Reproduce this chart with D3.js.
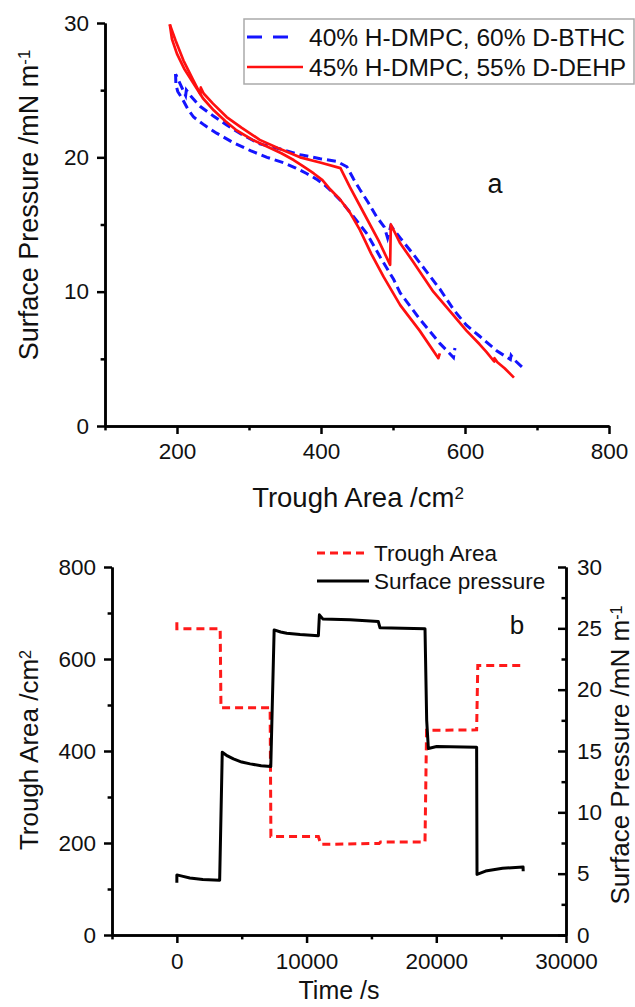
<!DOCTYPE html>
<html>
<head>
<meta charset="utf-8">
<script src="https://cdn.jsdelivr.net/npm/d3@7"></script>
<style>
  body { margin: 0; background: #fff; }
  svg { display: block; font-family: Arial, "Liberation Sans", sans-serif; }
  .axis path, .axis line { stroke: #000; stroke-width: 2.5; }
  .axis text { font-size: 22.5px; fill: #111; }
</style>
</head>
<body>
<svg id="chart" width="635" height="1007"></svg>
<script>
// ---- panel a: pressure vs trough area, [area, pressure] ----
const redCompression = [
  [668, 3.6], [655, 4.3], [645, 4.75], [641, 5.05], [640.5, 4.8], [630, 5.5],
  [620, 6.1], [602, 7.1], [580, 8.5], [556, 10.0], [527, 12.3], [510, 13.6],
  [497, 15.0], [496, 12.0], [480, 13.8], [460, 15.8], [440, 17.8], [427, 19.2],
  [400, 19.6], [371, 20.0], [340, 20.7], [315, 21.3], [290, 22.2], [269, 23.0],
  [250, 24.0], [237, 24.75], [233, 25.2], [232.5, 24.7], [222, 25.8],
  [209, 27.2], [198, 28.7], [190, 29.9]
];
const redExpansion = [
  [190, 29.9], [193, 28.8], [200, 27.7], [210, 26.6], [223, 25.5], [236, 24.4],
  [251, 23.5], [267, 22.7], [283, 22.0], [305, 21.3], [325, 20.8], [345, 20.3],
  [362, 19.8], [376, 19.3], [390, 18.8], [402, 18.3], [413, 17.6], [426, 16.9],
  [440, 15.9], [454, 14.6], [470, 12.8], [487, 11.1], [510, 9.0], [537, 7.1],
  [563, 5.05], [565, 5.4]
];
const blueCompression = [
  [679, 4.4], [668, 4.95], [664, 5.25], [663, 4.95], [644, 5.6], [620, 6.7],
  [602, 7.5], [585, 8.6], [565, 10.2], [545, 11.6], [528, 12.8], [510, 14.0],
  [497, 14.9], [492.5, 14.0], [488, 14.8], [477, 15.6], [466, 16.6], [454, 17.6],
  [445, 18.4], [436, 19.3], [422, 19.7], [399, 19.9], [371, 20.2], [345, 20.6],
  [315, 21.0], [290, 21.7], [269, 22.4], [250, 23.1], [232, 23.8], [220, 24.5],
  [213, 25.0], [212, 24.6], [205, 25.4], [198, 26.2]
];
const blueExpansion = [
  [198, 26.2], [198.5, 25.4], [201, 24.9], [207, 24.4], [215, 23.6], [223, 23.0],
  [238, 22.4], [255, 21.8], [278, 21.1], [302, 20.5], [325, 20.0], [348, 19.6],
  [365, 19.2], [380, 18.8], [393, 18.4], [404, 18.0], [414, 17.5], [427, 16.8],
  [445, 15.6], [464, 14.3], [482, 12.6], [501, 10.9], [510, 9.9], [524, 8.9],
  [538, 7.9], [552, 7.0], [565, 6.15], [576, 5.55], [584, 5.1], [586, 5.8]
];
const legendA = ["40% H-DMPC, 60% D-BTHC", "45% H-DMPC, 55% D-DEHP"];

// ---- panel b: time series, [time, value] ----
const troughArea = [
  [0, 680], [0, 666], [3340, 666], [3400, 494], [7190, 494], [7250, 214],
  [10910, 214], [11100, 197], [15600, 199], [15700, 202], [19130, 202],
  [19250, 445], [23110, 446], [23200, 586], [26700, 586]
];
const surfacePressure = [
  [0, 4.25], [0, 4.9], [400, 4.8], [1000, 4.65], [2000, 4.52], [3300, 4.47],
  [3500, 14.9], [3900, 14.6], [4360, 14.36], [5000, 14.1], [5650, 13.95],
  [6500, 13.8], [7240, 13.73], [7500, 24.87], [8000, 24.7], [8470, 24.6],
  [9500, 24.5], [10910, 24.4], [10990, 26.1], [11250, 25.77], [13350, 25.69],
  [15530, 25.55], [15660, 25.04], [19130, 24.96], [19260, 17.5], [19390, 15.2],
  [20030, 15.36], [23110, 15.31], [23140, 4.94], [23800, 5.21], [25110, 5.44],
  [26690, 5.55], [26700, 5.2]
];
const legendB = ["Trough Area", "Surface pressure"];

const areaTicks = [200, 400, 600, 800];
const areaMinor = [100, 300, 500, 700];
const pressTicksA = [0, 10, 20, 30];
const pressMinorA = [5, 15, 25];
const timeTicks = [0, 10000, 20000, 30000];
const timeMinor = [-5000, 5000, 15000, 25000];
const troughTicks = [0, 200, 400, 600, 800];
const troughMinor = [100, 300, 500, 700];
const pressTicksB = [0, 5, 10, 15, 20, 25, 30];
const pressMinorB = [2.5, 7.5, 12.5, 17.5, 22.5, 27.5];

const svg = d3.select("#chart");

// helper to draw an axis with major + minor ticks
function drawAxis(g, axisFn, scale, major, minor, size, pad) {
  g.append("g").attr("class", "axis")
    .call(axisFn(scale).tickValues(major).tickSize(size).tickSizeOuter(0)
      .tickPadding(pad).tickFormat(d3.format("d")));
  g.append("g").attr("class", "axis minor")
    .call(axisFn(scale).tickValues(minor).tickSize(size * 0.55).tickSizeOuter(0).tickFormat(""));
}

function title(g, x, y, rot, main, sup, size) {
  const t = g.append("text")
    .attr("transform", `translate(${x},${y})` + (rot ? " rotate(-90)" : ""))
    .attr("text-anchor", "middle").attr("font-size", size).attr("fill", "#111");
  t.append("tspan").text(main);
  if (sup) t.append("tspan").attr("dy", "-0.45em").attr("font-size", size * 0.62).text(sup);
  return t;
}

// ================= panel a =================
const xA = d3.scaleLinear().domain([100, 800]).range([105, 609]);
const yA = d3.scaleLinear().domain([0, 30]).range([426, 23]);

const gA = svg.append("g");
drawAxis(gA.append("g").attr("transform", "translate(0,426)"), d3.axisBottom, xA, areaTicks, areaMinor, 8, 9);
drawAxis(gA.append("g").attr("transform", "translate(105,0)"), d3.axisLeft, yA, pressTicksA, pressMinorA, 8, 8);

const lineA = d3.line().x(d => xA(d[0])).y(d => yA(d[1]));

const blue = "#1414ff", red = "#ff1010";
[blueCompression, blueExpansion].forEach(s => {
  gA.append("path").attr("d", lineA(s)).attr("fill", "none")
    .attr("stroke", blue).attr("stroke-width", 3).attr("stroke-dasharray", "9,5");
});
[redCompression, redExpansion].forEach(s => {
  gA.append("path").attr("d", lineA(s)).attr("fill", "none")
    .attr("stroke", red).attr("stroke-width", 2.7).attr("stroke-linejoin", "round");
});

// legend a
gA.append("rect").attr("x", 244).attr("y", 19).attr("width", 390).attr("height", 65)
  .attr("fill", "#fff").attr("stroke", "#aaa").attr("stroke-width", 1.5);
gA.append("line").attr("x1", 247).attr("x2", 288).attr("y1", 37).attr("y2", 37)
  .attr("stroke", blue).attr("stroke-width", 3).attr("stroke-dasharray", "15,11");
gA.append("line").attr("x1", 247).attr("x2", 303).attr("y1", 67).attr("y2", 67)
  .attr("stroke", red).attr("stroke-width", 2.7);
legendA.forEach((t, i) => {
  gA.append("text").attr("x", 309).attr("y", 37 + i * 30).attr("dy", "0.36em")
    .attr("font-size", 24.5).attr("fill", "#111").text(t);
});

gA.append("text").attr("x", 495).attr("y", 183).attr("dy", "0.36em")
  .attr("text-anchor", "middle").attr("font-size", 27).attr("fill", "#111").text("a");

title(gA, 358, 507, false, "Trough Area /cm", "2", 27.5);
title(gA, 38, 205, true, "Surface Pressure /mN m", "-1", 27);

// ================= panel b =================
const xB = d3.scaleLinear().domain([-5000, 30000]).range([112, 566]);
const yBL = d3.scaleLinear().domain([0, 800]).range([935, 567]);
const yBR = d3.scaleLinear().domain([0, 30]).range([935, 567]);

const gB = svg.append("g");
drawAxis(gB.append("g").attr("transform", "translate(0,935)"), d3.axisBottom, xB, timeTicks, timeMinor, 8, 10);
drawAxis(gB.append("g").attr("transform", "translate(112,0)"), d3.axisLeft, yBL, troughTicks, troughMinor, 8, 8);

// right axis: ticks point inward, labels outside
const yAxBR = gB.append("g").attr("transform", "translate(566,0)");
yAxBR.append("g").attr("class", "axis")
  .call(d3.axisRight(yBR).tickValues(pressTicksB).tickSize(-8).tickSizeOuter(0)
    .tickPadding(11).tickFormat(d3.format("d")));
yAxBR.append("g").attr("class", "axis minor")
  .call(d3.axisRight(yBR).tickValues(pressMinorB).tickSize(-4.5).tickSizeOuter(0).tickFormat(""));

const lineArea = d3.line().x(d => xB(d[0])).y(d => yBL(d[1]));
const linePress = d3.line().x(d => xB(d[0])).y(d => yBR(d[1]));

gB.append("path").attr("d", lineArea(troughArea)).attr("fill", "none")
  .attr("stroke", "#ff1a1a").attr("stroke-width", 3).attr("stroke-dasharray", "8,5");
gB.append("path").attr("d", linePress(surfacePressure)).attr("fill", "none")
  .attr("stroke", "#000").attr("stroke-width", 3).attr("stroke-linejoin", "round");

// legend b
gB.append("line").attr("x1", 317).attr("x2", 369).attr("y1", 553).attr("y2", 553)
  .attr("stroke", "#ff1a1a").attr("stroke-width", 3).attr("stroke-dasharray", "8,5");
gB.append("line").attr("x1", 317).attr("x2", 369).attr("y1", 581).attr("y2", 581)
  .attr("stroke", "#000").attr("stroke-width", 3);
legendB.forEach((t, i) => {
  gB.append("text").attr("x", 374).attr("y", 553 + i * 28).attr("dy", "0.36em")
    .attr("font-size", 22.5).attr("fill", "#111").text(t);
});

gB.append("text").attr("x", 517).attr("y", 625).attr("dy", "0.36em")
  .attr("text-anchor", "middle").attr("font-size", 26).attr("fill", "#111").text("b");

title(gB, 339, 999, false, "Time /s", null, 25);
title(gB, 38, 750, true, "Trough Area /cm", "2", 26);
title(gB, 629, 755, true, "Surface Pressure /mN m", "-1", 26);
</script>
</body>
</html>
